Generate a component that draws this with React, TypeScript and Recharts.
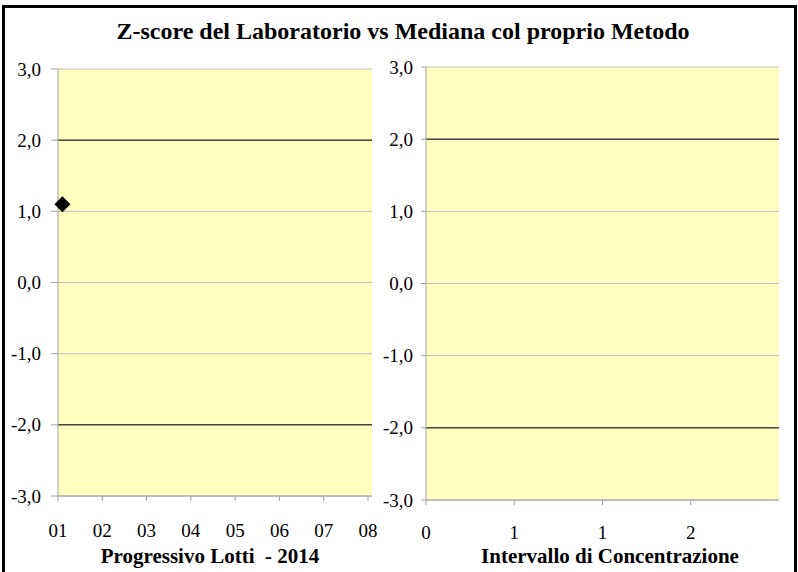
import {
  ComposedChart,
  Scatter,
  XAxis,
  YAxis,
  CartesianGrid,
  ReferenceLine,
} from "recharts";

const lotTicks = [1, 2, 3, 4, 5, 6, 7, 8];
const lotLabels = ["01", "02", "03", "04", "05", "06", "07", "08"];
const zTicks = [-3, -2, -1, 0, 1, 2, 3];
const limitLines = [2, -2];
const concTicks = [0, 0.5, 1, 1.5];

const labZ = [{ lot: 1.1, z: 1.1 }];
const concZ: { conc: number; z: number }[] = [];

const serif = "Liberation Serif";
const yellow = "#FFFFC0";
const grey = "#BFBFBF";

const fmtZ = (v: number) => v.toFixed(1).replace(".", ",");

const Diamond = (props: any) => {
  const { cx, cy } = props;
  const r = 8;
  return (
    <path
      d={`M${cx},${cy - r} L${cx + r},${cy} L${cx},${cy + r} L${cx - r},${cy} Z`}
      fill="#000"
    />
  );
};

const XTick = (fmt: (v: number) => string) => (props: any) => {
  const { x, y, payload } = props;
  return (
    <text
      x={x}
      y={y}
      dy="0.71em"
      textAnchor="middle"
      fill="#000"
      fontSize={19}
      fontFamily={serif}
    >
      {fmt(payload.value)}
    </text>
  );
};

const YTick = (props: any) => {
  const { x, y, payload } = props;
  return (
    <text
      x={x}
      y={y}
      dy="0.35em"
      textAnchor="end"
      fill="#000"
      fontSize={19}
      fontFamily={serif}
    >
      {fmtZ(payload.value)}
    </text>
  );
};

export default function App() {
  return (
    <div
      style={{
        position: "absolute",
        left: 0,
        top: 0,
        width: 798,
        height: 572,
        background: "#fff",
        overflow: "hidden",
      }}
    >
      <div
        style={{
          position: "absolute",
          left: 2,
          top: 5,
          width: 795,
          height: 580,
          boxSizing: "border-box",
          borderLeft: "3px solid #000",
          borderTop: "3px solid #000",
          borderRight: "3px solid #000",
        }}
      />
      <div
        style={{
          position: "absolute",
          left: 0,
          top: 18,
          width: 806,
          textAlign: "center",
          fontFamily: serif,
          fontWeight: "bold",
          fontSize: 24,
        }}
      >
        Z-score del Laboratorio vs Mediana col proprio Metodo
      </div>

      <div style={{ position: "absolute", left: 0, top: 0 }}>
        <ComposedChart
          width={400}
          height={572}
          data={labZ}
          margin={{ top: 69, right: 28, left: 0, bottom: 46 }}
        >
          <CartesianGrid
            vertical={false}
            stroke={grey}
            fill={yellow}
            horizontalValues={zTicks}
          />
          <XAxis
            type="number"
            dataKey="lot"
            domain={[1, 8]}
            ticks={lotTicks}
            padding={{ left: 0, right: 4 }}
            height={30}
            stroke="#A0A0A0"
            tickSize={5}
            tickMargin={23}
            tick={XTick((v) => lotLabels[v - 1])}
            interval={0}
          />
          <YAxis
            type="number"
            dataKey="z"
            domain={[-3, 3]}
            ticks={zTicks}
            width={58}
            stroke="#A0A0A0"
            tickSize={7}
            tickMargin={10}
            tick={YTick}
            interval={0}
          />
          {limitLines.map((v) => (
            <ReferenceLine key={v} y={v} stroke="#000" strokeWidth={1} />
          ))}
          <Scatter
            data={labZ}
            dataKey="z"
            shape={Diamond}
            isAnimationActive={false}
          />
        </ComposedChart>
      </div>

      <div style={{ position: "absolute", left: 370, top: 0 }}>
        <ComposedChart
          width={428}
          height={572}
          data={concZ}
          margin={{ top: 67, right: 19, left: 0, bottom: 42 }}
        >
          <CartesianGrid
            vertical={false}
            stroke={grey}
            fill={yellow}
            horizontalValues={zTicks}
          />
          <XAxis
            type="number"
            dataKey="conc"
            domain={[0, 2]}
            ticks={concTicks}
            height={30}
            stroke="#A0A0A0"
            tickSize={5}
            tickMargin={21}
            tick={XTick((v) => String(Math.round(v)))}
            interval={0}
            allowDataOverflow
          />
          <YAxis
            type="number"
            dataKey="z"
            domain={[-3, 3]}
            ticks={zTicks}
            width={56}
            stroke="#A0A0A0"
            tickSize={5}
            tickMargin={8}
            tick={YTick}
            interval={0}
            allowDataOverflow
          />
          {limitLines.map((v) => (
            <ReferenceLine key={v} y={v} stroke="#000" strokeWidth={1} />
          ))}
          <Scatter data={concZ} dataKey="z" isAnimationActive={false} />
        </ComposedChart>
      </div>

      <div
        style={{
          position: "absolute",
          left: 60,
          width: 300,
          top: 544,
          textAlign: "center",
          fontFamily: serif,
          fontWeight: "bold",
          fontSize: 21,
          whiteSpace: "pre",
        }}
      >
        {"Progressivo Lotti  - 2014"}
      </div>
      <div
        style={{
          position: "absolute",
          left: 460,
          width: 300,
          top: 544,
          textAlign: "center",
          fontFamily: serif,
          fontWeight: "bold",
          fontSize: 21,
        }}
      >
        Intervallo di Concentrazione
      </div>
    </div>
  );
}
